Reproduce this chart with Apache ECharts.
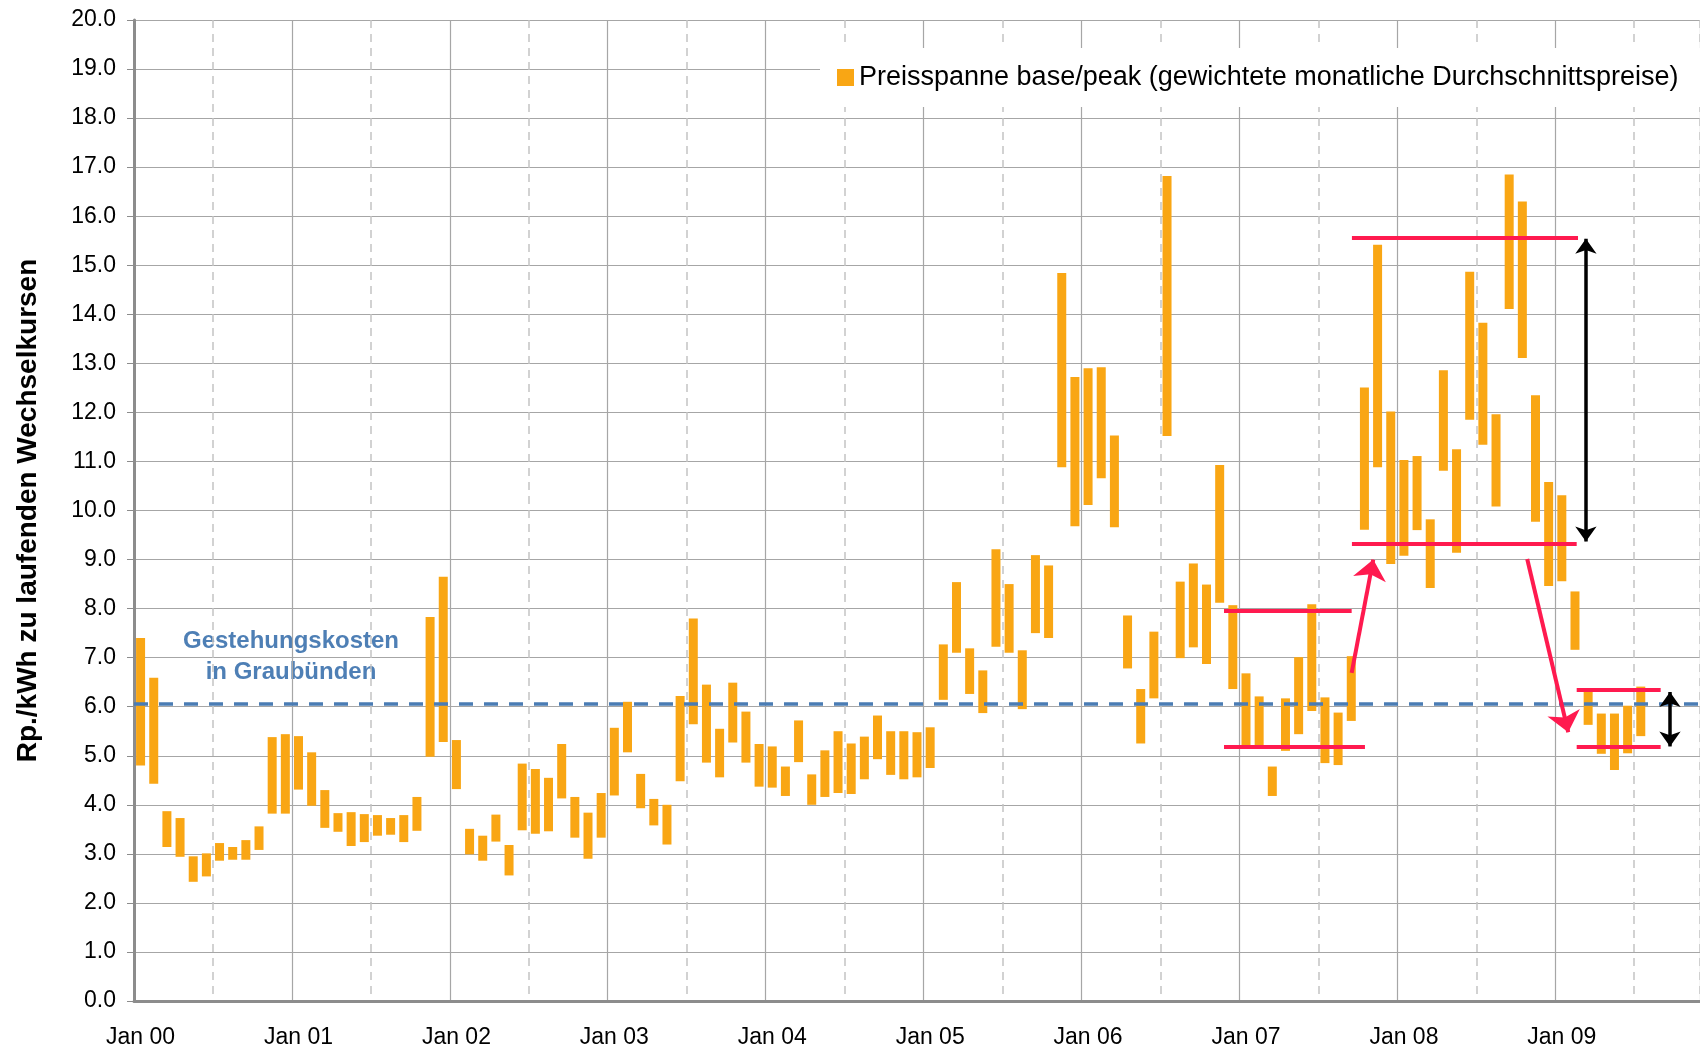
<!DOCTYPE html>
<html>
<head>
<meta charset="utf-8">
<title>Preisspanne base/peak</title>
<script src="https://cdn.jsdelivr.net/npm/echarts@6/dist/echarts.min.js"></script>
<style>
html, body { margin: 0; padding: 0; background: #fff; }
#chart { width: 1700px; height: 1049px; }
</style>
</head>
<body>
<div id="chart"></div>
<script>
// Monate ab Jan 00 (Index 0), Achse reicht bis Nov 09
const years = ['00', '01', '02', '03', '04', '05', '06', '07', '08', '09']
const monthNames = ['Jan', 'Feb', 'Mrz', 'Apr', 'Mai', 'Jun', 'Jul', 'Aug', 'Sep', 'Okt', 'Nov', 'Dez']
const monthCount = 119

// Preisspanne je Monat: base (unten) und peak (oben), Rp./kWh
const low = [
  4.80, 4.43, 3.14, 2.94, 2.43, 2.54, 2.86, 2.88, 2.88, 3.08, 3.82, 3.82,
  4.31, 3.98, 3.53, 3.45, 3.16, 3.24, 3.37, 3.39, 3.24, 3.47, 4.98, 5.28,
  4.32, 2.99, 2.86, 3.25, 2.56, 3.48, 3.41, 3.46, 4.13, 3.33, 2.90, 3.33,
  4.19, 5.07, 3.93, 3.58, 3.19, 4.48, 5.64, 4.86, 4.56, 5.27, 4.86, 4.37,
  4.35, 4.18, 4.87, 4.00, 4.16, 4.24, 4.22, 4.52, 4.93, 4.61, 4.52, 4.56,
  4.75, 6.14, 7.10, 6.26, 5.87, 7.22, 7.10, 5.95, 7.50, 7.40, 10.88, 9.68,
  10.11, 10.66, 9.66, 6.78, 5.25, 6.17, 11.52, 6.99, 7.21, 6.87, 8.12, 6.36,
  5.19, 5.20, 4.18, 5.10, 5.44, 5.91, 4.85, 4.81, 5.71, 9.61, 10.88, 8.91,
  9.08, 9.60, 8.42, 10.81, 9.14, 11.85, 11.34, 10.08, 14.11, 13.11, 9.77, 8.46,
  8.56, 7.16, 5.63, 5.04, 4.71, 5.05, 5.40
]
const high = [
  7.40, 6.59, 3.87, 3.73, 2.95, 3.01, 3.22, 3.14, 3.28, 3.56, 5.38, 5.44,
  5.40, 5.07, 4.30, 3.83, 3.85, 3.81, 3.79, 3.73, 3.79, 4.16, 7.83, 8.65,
  5.32, 3.51, 3.37, 3.80, 3.18, 4.84, 4.73, 4.55, 5.24, 4.16, 3.84, 4.24,
  5.57, 6.10, 4.63, 4.12, 4.00, 6.22, 7.80, 6.45, 5.55, 6.49, 5.90, 5.24,
  5.19, 4.78, 5.72, 4.62, 5.11, 5.50, 5.25, 5.39, 5.82, 5.50, 5.50, 5.48,
  5.58, 7.27, 8.54, 7.19, 6.74, 9.21, 8.50, 7.15, 9.09, 8.88, 14.84, 12.72,
  12.90, 12.92, 11.53, 7.86, 6.36, 7.53, 16.82, 8.55, 8.92, 8.49, 10.93, 8.07,
  6.68, 6.21, 4.78, 6.17, 7.01, 8.09, 6.19, 5.88, 7.03, 12.51, 15.42, 12.02,
  11.03, 11.11, 9.82, 12.86, 11.25, 14.87, 13.83, 11.96, 16.85, 16.30, 12.35, 10.58,
  10.31, 8.35, 6.31, 5.86, 5.86, 6.02, 6.41
]

const seriesName = 'Preisspanne base/peak (gewichtete monatliche Durchschnittspreise)'
const costLevel = 6.07

// Annotationen: [x in Monaten ab Jan 00, y in Rp./kWh]
const redLines = [
  [[82.83, 7.95], [92.53, 7.95]],
  [[82.83, 5.18], [93.54, 5.18]],
  [[92.55, 9.33], [109.63, 9.33]],
  [[92.55, 15.57], [109.73, 15.57]],
  [[109.63, 6.35], [116.01, 6.35]],
  [[109.63, 5.19], [116.01, 5.19]]
]
const redArrows = [
  [[92.53, 6.69], [94.17, 9.0]],
  [[105.87, 9.01], [108.99, 5.48]]
]
const blackArrows = [
  [[110.33, 15.54], [110.33, 9.37]],
  [[116.72, 6.30], [116.72, 5.19]]
]

const categories = []
for (let i = 0; i < monthCount; i++) {
  categories.push(monthNames[i % 12] + ' ' + years[Math.floor(i / 12)])
}

const toSegments = (list) => list.map(([a, b]) => [{ coord: a }, { coord: b }])

const font = '"Liberation Sans", Arial, sans-serif'
const gridColor = '#a6a6a6'
const axisColor = '#8c8c8c'

const chart = echarts.init(document.getElementById('chart'))

const option = {
  animation: false,
  backgroundColor: '#fff',
  grid: {
    left: 134,
    right: 0,
    top: 20,
    bottom: 48
  },
  legend: {
    data: [seriesName],
    left: 820,
    top: 48,
    padding: [16, 60, 16, 17],
    backgroundColor: '#fff',
    icon: 'rect',
    itemWidth: 17,
    itemHeight: 17,
    itemGap: 6,
    selectedMode: false,
    textStyle: {
      fontFamily: font,
      fontSize: 27,
      color: '#000'
    }
  },
  xAxis: [
    {
      type: 'category',
      data: categories,
      axisLine: { lineStyle: { color: axisColor, width: 3 } },
      axisTick: {
        interval: (index) => index % 12 === 0,
        length: 8,
        lineStyle: { color: axisColor, width: 1 }
      },
      axisLabel: {
        interval: (index) => index % 12 === 0,
        margin: 25,
        fontFamily: font,
        fontSize: 23,
        color: '#000'
      },
      splitLine: {
        show: true,
        interval: (index) => index % 12 === 0,
        lineStyle: { color: gridColor, width: 1.2 }
      }
    },
    {
      type: 'category',
      data: categories,
      position: 'bottom',
      axisLine: { show: false },
      axisTick: { show: false },
      axisLabel: { show: false },
      splitLine: {
        show: true,
        interval: (index) => index % 12 === 6,
        lineStyle: { color: '#c4c4c4', width: 1.5, type: [8, 6] }
      }
    },
    {
      type: 'value',
      min: 0,
      max: monthCount,
      show: false
    }
  ],
  yAxis: {
    type: 'value',
    min: 0,
    max: 20,
    interval: 1,
    name: 'Rp./kWh zu laufenden Wechselkursen',
    nameLocation: 'middle',
    nameRotate: 90,
    nameGap: 92,
    nameTextStyle: {
      fontFamily: font,
      fontSize: 28,
      fontWeight: 'bold',
      color: '#000'
    },
    axisLine: { show: true, lineStyle: { color: axisColor, width: 3 } },
    axisTick: { show: true, length: 7, lineStyle: { color: axisColor } },
    axisLabel: {
      margin: 18,
      fontFamily: font,
      fontSize: 23,
      color: '#000',
      formatter: (v) => v.toFixed(1)
    },
    splitLine: { lineStyle: { color: gridColor, width: 1.2 } }
  },
  graphic: [
    {
      type: 'group',
      left: 165,
      top: 620,
      z: 3,
      children: [
        {
          type: 'rect',
          shape: { x: 0, y: 0, width: 252, height: 72 },
          style: { fill: '#fff' }
        },
        {
          type: 'text',
          x: 126,
          y: 37,
          style: {
            text: 'Gestehungskosten\nin Graubünden',
            align: 'center',
            verticalAlign: 'middle',
            lineHeight: 31,
            font: 'bold 24px ' + font,
            fill: '#4e7fb5'
          }
        }
      ]
    }
  ],
  series: [
    {
      name: 'base',
      type: 'bar',
      stack: 'range',
      barWidth: 9,
      silent: true,
      itemStyle: { color: 'transparent' },
      data: low
    },
    {
      name: seriesName,
      type: 'bar',
      stack: 'range',
      barWidth: 9,
      itemStyle: { color: '#f9a614' },
      data: high.map((h, i) => +(h - low[i]).toFixed(2))
    },
    {
      name: 'cost',
      type: 'line',
      xAxisIndex: 2,
      data: [],
      markLine: {
        silent: true,
        symbol: 'none',
        label: { show: false },
        lineStyle: { color: '#4a7cb4', width: 3.5, type: [14, 11] },
        data: [{ yAxis: costLevel }]
      }
    },
    {
      name: 'redLines',
      type: 'line',
      xAxisIndex: 2,
      data: [],
      z: 5,
      markLine: {
        silent: true,
        symbol: 'none',
        label: { show: false },
        lineStyle: { color: '#ff1a4f', width: 4, type: 'solid' },
        data: toSegments(redLines)
      }
    },
    {
      name: 'redArrows',
      type: 'line',
      xAxisIndex: 2,
      data: [],
      z: 5,
      markLine: {
        silent: true,
        symbol: ['none', 'arrow'],
        symbolSize: [25, 20],
        label: { show: false },
        lineStyle: { color: '#ff1a4f', width: 4, type: 'solid', opacity: 1 },
        itemStyle: { color: '#ff1a4f' },
        data: toSegments(redArrows)
      }
    },
    {
      name: 'blackArrows',
      type: 'line',
      xAxisIndex: 2,
      data: [],
      z: 5,
      markLine: {
        silent: true,
        symbol: ['arrow', 'arrow'],
        symbolSize: [16, 15],
        label: { show: false },
        lineStyle: { color: '#000', width: 3.5, type: 'solid', opacity: 1 },
        itemStyle: { color: '#000' },
        data: toSegments(blackArrows)
      }
    }
  ]
}

chart.setOption(option)
</script>
</body>
</html>
